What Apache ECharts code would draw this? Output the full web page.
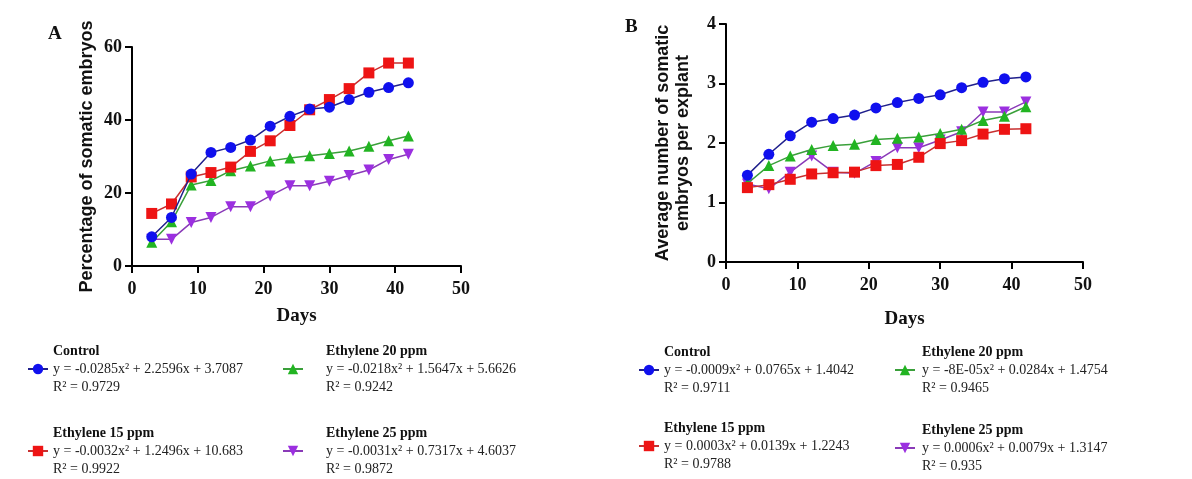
<!DOCTYPE html>
<html>
<head>
<meta charset="utf-8">
<script src="https://cdn.jsdelivr.net/npm/echarts@6/dist/echarts.min.js"></script>
<style>
    html,body{margin:0;padding:0;background:#fff;}
    #chart{width:1192px;height:479px;}
</style>
</head>
<body>
<div id="chart"></div>
<script>
// days of culture (both panels)
var days = [3, 6, 9, 12, 15, 18, 21, 24, 27, 30, 33, 36, 39, 42]

// panel A - percentage of somatic embryos
var pctControl = [8.0, 13.3, 25.2, 31.1, 32.5, 34.5, 38.3, 41.0, 43.0, 43.5, 45.6, 47.6, 48.9, 50.2]
var pctEth15   = [14.4, 17.0, 24.4, 25.6, 27.1, 31.4, 34.3, 38.5, 42.8, 45.6, 48.6, 52.9, 55.6, 55.6]
var pctEth20   = [6.5, 12.1, 22.2, 23.4, 26.1, 27.4, 28.8, 29.6, 30.2, 30.8, 31.5, 32.8, 34.3, 35.6]
var pctEth25   = [7.3, 7.3, 11.9, 13.3, 16.2, 16.2, 19.2, 22.0, 22.0, 23.2, 24.8, 26.3, 29.2, 30.6]

// panel B - average number of somatic embryos per explant
var avgControl = [1.46, 1.81, 2.12, 2.35, 2.41, 2.47, 2.59, 2.68, 2.75, 2.81, 2.93, 3.02, 3.08, 3.11]
var avgEth15   = [1.25, 1.30, 1.39, 1.48, 1.50, 1.51, 1.62, 1.64, 1.76, 1.99, 2.04, 2.15, 2.23, 2.24]
var avgEth20   = [1.32, 1.62, 1.78, 1.89, 1.96, 1.98, 2.06, 2.08, 2.10, 2.16, 2.23, 2.38, 2.45, 2.61]
var avgEth25   = [1.31, 1.23, 1.51, 1.78, 1.51, 1.49, 1.69, 1.92, 1.92, 2.05, 2.19, 2.52, 2.52, 2.69]

var treatments = ['Control', 'Ethylene 15 ppm', 'Ethylene 20 ppm', 'Ethylene 25 ppm']

// trend line equations shown in the legends
var eqA = ['y = -0.0285x² + 2.2596x + 3.7087', 'y = -0.0032x² + 1.2496x + 10.683',
           'y = -0.0218x² + 1.5647x + 5.6626', 'y = -0.0031x² + 0.7317x + 4.6037']
var r2A = ['0.9729', '0.9922', '0.9242', '0.9872']
var eqB = ['y = -0.0009x² + 0.0765x + 1.4042', 'y = 0.0003x² + 0.0139x + 1.2243',
           'y = -8E-05x² + 0.0284x + 1.4754', 'y = 0.0006x² + 0.0079x + 1.3147']
var r2B = ['0.9711', '0.9788', '0.9465', '0.935']

var serif = 'Liberation Serif'
var sans = 'Liberation Sans'

var styles = [
    {symbol:'circle', size:11, fill:'#1010ee', line:'#20208c', rotate:0},
    {symbol:'rect', size:11, fill:'#ee1414', line:'#c83030', rotate:0},
    {symbol:'triangle', size:11, fill:'#22b422', line:'#3aa03a', rotate:0},
    {symbol:'triangle', size:11, fill:'#9b2fe0', line:'#8a3ab8', rotate:180}
]

function pairs(vals){
    return days.map(function(d, i){ return [d, vals[i]] })
}

function makeSeries(vals, idx, axis){
    var s = styles[idx]
    return {
        name: treatments[idx],
        type: 'line',
        xAxisIndex: axis,
        yAxisIndex: axis,
        data: pairs(vals),
        symbol: s.symbol,
        symbolSize: s.size,
        symbolRotate: s.rotate,
        showAllSymbol: true,
        lineStyle: {color: s.line, width: 1.5},
        itemStyle: {color: s.fill, borderWidth: 0},
        z: 10 - idx,
        animation: false
    }
}

function makeLegend(idx, eqs, r2s, left, top, pad){
    return {
        data: [treatments[idx]],
        left: left,
        top: top,
        orient: 'vertical',
        selectedMode: false,
        itemWidth: 20,
        itemHeight: 13,
        formatter: function(name){
            return '{b|' + name + '}\n{t|' + eqs[idx] + '}\n{t|R² = ' + r2s[idx] + '}'
        },
        textStyle: {
            padding: [0, 0, 0, pad],
            rich: {
                b: {fontFamily: serif, fontWeight: 'bold', fontSize: 14, lineHeight: 18, color: '#111'},
                t: {fontFamily: serif, fontSize: 14, lineHeight: 18, color: '#222'}
            }
        }
    }
}

var axisCommon = {
    axisLine: {show: true, lineStyle: {color: '#000', width: 2}},
    axisTick: {show: true, length: 7, lineStyle: {color: '#000', width: 2}},
    splitLine: {show: false},
    axisLabel: {fontFamily: serif, fontWeight: 'bold', fontSize: 18, color: '#111'}
}

function xAxisOf(gi, gap){
    return Object.assign({}, axisCommon, {
        type: 'value', gridIndex: gi, min: 0, max: 50, interval: 10,
        name: 'Days', nameLocation: 'middle', nameGap: gap,
        nameTextStyle: {fontFamily: serif, fontWeight: 'bold', fontSize: 19, color: '#111'},
        axisLabel: Object.assign({}, axisCommon.axisLabel, {margin: 14})
    })
}

var chart = echarts.init(document.getElementById('chart'))
var option = {
    backgroundColor: '#fff',
    animation: false,
    grid: [
        {left: 132, right: 731, top: 47, bottom: 213},
        {left: 726, right: 109, top: 24, bottom: 217}
    ],
    xAxis: [xAxisOf(0, 41), xAxisOf(1, 48)],
    yAxis: [
        Object.assign({}, axisCommon, {
            type: 'value', gridIndex: 0, min: 0, max: 60, interval: 20,
            name: 'Percentage of somatic embryos', nameLocation: 'middle', nameGap: 36,
            nameTextStyle: {fontFamily: sans, fontWeight: 'bold', fontSize: 18, color: '#111'},
            axisLabel: Object.assign({}, axisCommon.axisLabel, {margin: 10})
        }),
        Object.assign({}, axisCommon, {
            type: 'value', gridIndex: 1, min: 0, max: 4, interval: 1,
            name: 'Average number of somatic\nembryos per explant', nameLocation: 'middle', nameGap: 33,
            nameTextStyle: {fontFamily: sans, fontWeight: 'bold', fontSize: 18, lineHeight: 20, color: '#111'},
            axisLabel: Object.assign({}, axisCommon.axisLabel, {margin: 10})
        })
    ],
    legend: [
        makeLegend(0, eqA, r2A, 22, 339, 0),
        makeLegend(1, eqA, r2A, 22, 421, 0),
        makeLegend(2, eqA, r2A, 277, 339, 18),
        makeLegend(3, eqA, r2A, 277, 421, 18),
        makeLegend(0, eqB, r2B, 633, 340, 0),
        makeLegend(1, eqB, r2B, 633, 416, 0),
        makeLegend(2, eqB, r2B, 889, 340, 2),
        makeLegend(3, eqB, r2B, 889, 418, 2)
    ],
    graphic: [
        {type: 'text', left: 48, top: 25, style: {text: 'A', font: 'bold 19px "Liberation Serif"', fill: '#111'}},
        {type: 'text', left: 625, top: 18, style: {text: 'B', font: 'bold 19px "Liberation Serif"', fill: '#111'}}
    ],
    series: [
        makeSeries(pctControl, 0, 0),
        makeSeries(pctEth15, 1, 0),
        makeSeries(pctEth20, 2, 0),
        makeSeries(pctEth25, 3, 0),
        makeSeries(avgControl, 0, 1),
        makeSeries(avgEth15, 1, 1),
        makeSeries(avgEth20, 2, 1),
        makeSeries(avgEth25, 3, 1)
    ]
}
chart.setOption(option)
window.onresize = function(){ chart.resize() }
</script>
</body>
</html>
